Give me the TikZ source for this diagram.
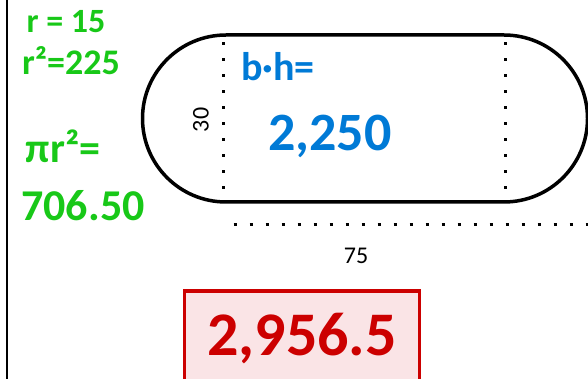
\documentclass[tikz,border=0pt]{standalone}
\usepackage{fontspec}
\setmainfont{Carlito}
\usetikzlibrary{positioning}
\definecolor{handgreen}{RGB}{24,200,24}
\definecolor{handblue}{RGB}{0,122,214}
\definecolor{boxred}{RGB}{204,0,0}
\definecolor{boxpink}{RGB}{250,228,230}

\begin{document}
\begin{tikzpicture}[
    x=1pt, y=-1pt,
    outline/.style={line width=3.5pt},
    dimline/.style={line width=3pt, dash pattern=on 3pt off 13pt},
    dimlabel/.style={font=\fontsize{24}{26}\selectfont, inner sep=0pt},
    greennote/.style={text=handgreen, inner sep=0pt, font=\fontsize{#1}{#1}\selectfont\bfseries},
    bluenote/.style={text=handblue, inner sep=0pt, font=\fontsize{#1}{#1}\selectfont\bfseries},
    totalbox/.style={draw=boxred, fill=boxpink, line width=3.5pt, text=boxred,
        minimum width=235pt, minimum height=95pt, inner sep=0pt,
        font=\fontsize{62}{62}\selectfont\bfseries}
]
\useasboundingbox (0,0) rectangle (588,379);

% margin line on the left
\draw[line width=2pt] (7,-5) -- (7,385);

% the track: rectangle with two half circles
\draw[outline] (226,35) -- (504,35)
    arc[start angle=-90, end angle=90, radius=83.5]
    -- (226,202)
    arc[start angle=90, end angle=270, radius=83.5] -- cycle;

% dotted dimension lines
\draw[dimline] (223,42.5) -- (223,192);
\draw[dimline] (505,42.5) -- (505,192);
\draw[dimline] (233.5,224) -- (592,224);

% dimension labels
\node[dimlabel, rotate=90] (height) at (201,120) {30};
\node[dimlabel] (base) at (356,256) {75};

% circle work (green)
\node[greennote=34] (radius) at (66,22) {r = 15};
\node[greennote=36] (rsquared) at (71,61) {r²=225};
\node[greennote=42] (pirsq) at (63,146) {πr²=};
\node[greennote=44] (circlearea) at (83,206) {706.50};

% rectangle work (blue)
\node[bluenote=40] (bh) at (278,67) {b·h=};
\node[bluenote=54] (rectarea) at (330,136) {2,250};

% total
\node[totalbox] (total) at (302,338.5) {2,956.5};

\end{tikzpicture}
\end{document}
